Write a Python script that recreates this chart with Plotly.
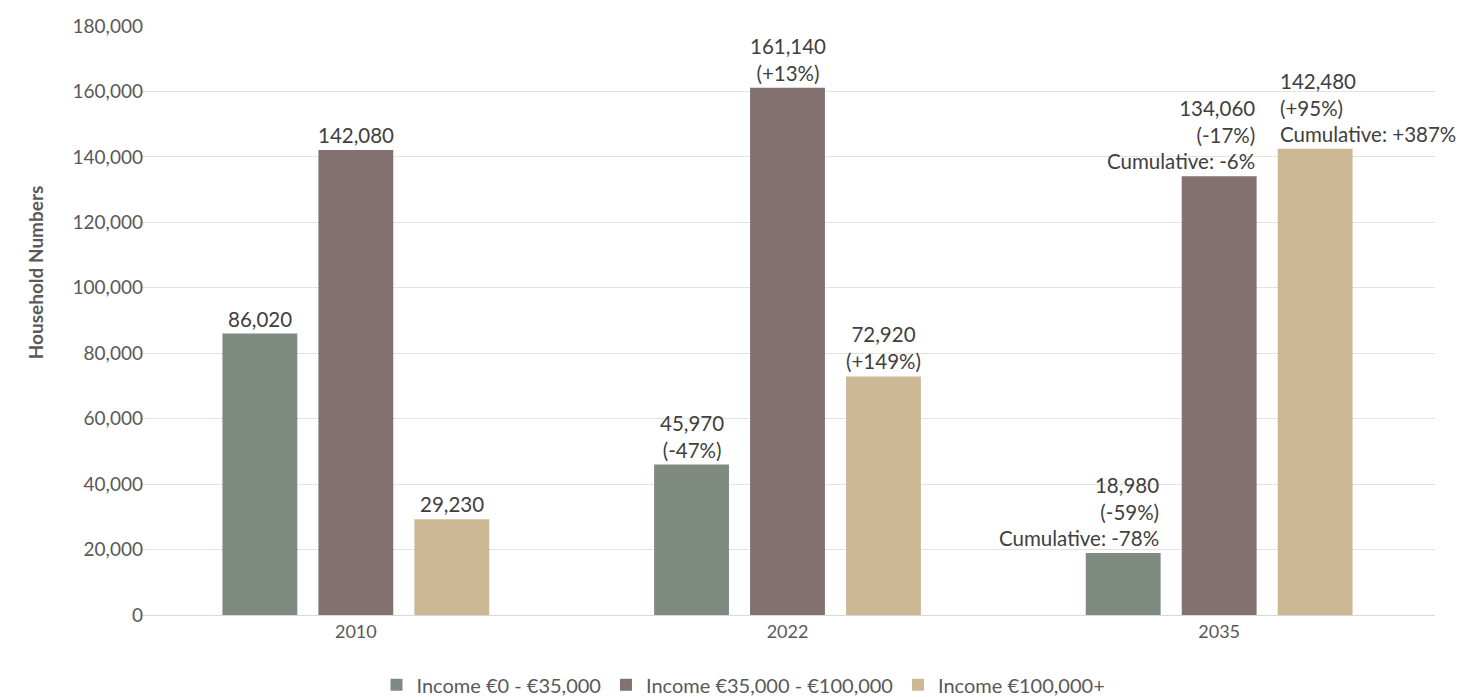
import plotly.graph_objects as go

years = ["2010", "2022", "2035"]
series_names = ["Income €0 - €35,000", "Income €35,000 - €100,000", "Income €100,000+"]
low_income = [86020, 45970, 18980]
mid_income = [142080, 161140, 134060]
high_income = [29230, 72920, 142480]
low_labels = ["86,020", "45,970<br>(-47%)", "18,980<br>(-59%)<br>Cumulative: -78%"]
mid_labels = ["142,080", "161,140<br>(+13%)", "134,060<br>(-17%)<br>Cumulative: -6%"]
high_labels = ["29,230", "72,920<br>(+149%)", "142,480<br>(+95%)<br>Cumulative: +387%"]
y_ticks = [0, 20000, 40000, 60000, 80000, 100000, 120000, 140000, 160000, 180000]

colors = ["#7f8a80", "#82716f", "#cdb896"]
values = [low_income, mid_income, high_income]
labels = [low_labels, mid_labels, high_labels]

FONT = "Lato, 'Open Sans', sans-serif"

fig = go.Figure()
for name, vals, col in zip(series_names, values, colors):
    fig.add_trace(go.Bar(x=years, y=vals, name=name, marker_color=col,
                         marker_line_width=0, hoverinfo="x+y+name"))

BARGAP = 0.333
GROUPGAP = 0.22
slot = (1 - BARGAP) / 3
half_bar = slot * (1 - GROUPGAP) / 2

annotations = []
for si, (vals, labs) in enumerate(zip(values, labels)):
    for ci, (v, lab) in enumerate(zip(vals, labs)):
        center = ci + (si - 1) * slot
        if ci == 2 and si < 2:
            x, anchor, align = center + half_bar, "right", "right"
        elif ci == 2 and si == 2:
            x, anchor, align = center - half_bar, "left", "left"
        else:
            x, anchor, align = center, "center", "center"
        annotations.append(dict(x=x, y=v, xref="x", yref="y", text=lab,
                                showarrow=False, xanchor=anchor, yanchor="bottom",
                                align=align, yshift=1,
                                font=dict(family=FONT, size=20.5, color="#404040")))

annotations.append(dict(x=-0.081, y=0.582, xref="paper", yref="paper",
                        text="<b>Household Numbers</b>", textangle=-90,
                        showarrow=False, xanchor="center", yanchor="middle",
                        font=dict(family=FONT, size=19, color="#595959")))

fig.update_layout(
    width=1471, height=697,
    margin=dict(l=132, r=44, t=18, b=90, autoexpand=False),
    paper_bgcolor="white", plot_bgcolor="white",
    barmode="group", bargap=BARGAP, bargroupgap=GROUPGAP,
    font=dict(family=FONT, size=16, color="#595959"),
    annotations=annotations,
    showlegend=True,
    legend=dict(orientation="h", xref="container", yref="container",
                x=0.5, xanchor="center", y=0.029, yanchor="middle",
                font=dict(family=FONT, size=20, color="#595959"),
                traceorder="normal"),
    xaxis=dict(range=[-0.5, 2.5], showgrid=False, showline=False, ticks="", automargin=False,
               ticklabelstandoff=4,
               tickfont=dict(family=FONT, size=18, color="#595959")),
    yaxis=dict(range=[0, 180000], tickvals=y_ticks, tickformat=",",
               showgrid=True, gridcolor="#e3e3e3", gridwidth=1,
               zeroline=True, zerolinecolor="#d9d9d9", zerolinewidth=1,
               ticks="", ticklabelstandoff=-4, automargin=False,
               tickfont=dict(family=FONT, size=19, color="#595959")),
)

fig.write_html("out.html")
